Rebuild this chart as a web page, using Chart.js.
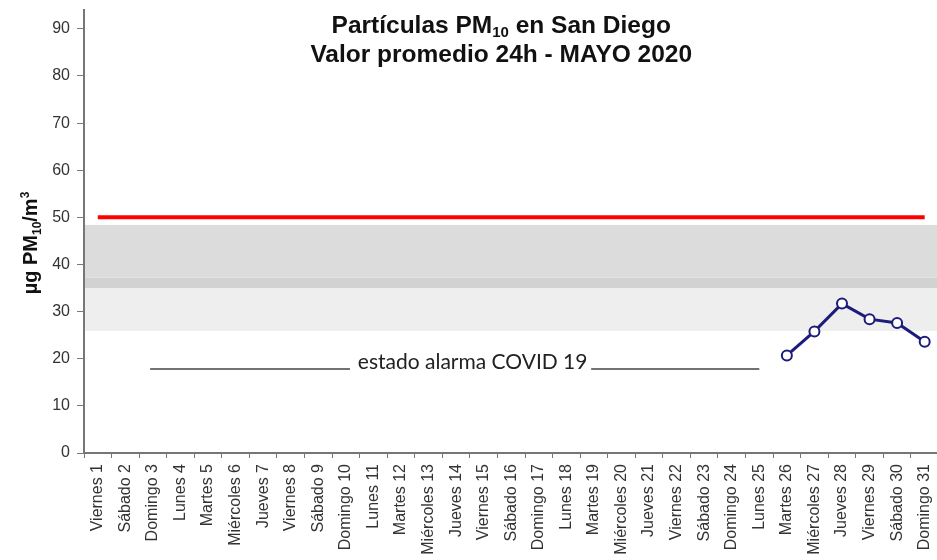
<!DOCTYPE html>
<html>
<head>
<meta charset="utf-8">
<script src="https://cdn.jsdelivr.net/npm/chart.js@4.4.1/dist/chart.umd.min.js"></script>
<style>
  html, body { margin: 0; padding: 0; background: #fff; overflow: hidden; }
  canvas { display: block; }
</style>
</head>
<body>
<canvas id="pmChart" width="950" height="560"></canvas>
<script>
// Días de mayo 2020 (eje X)
const dayLabels = [
    'Viernes 1', 'Sábado 2', 'Domingo 3', 'Lunes 4', 'Martes 5', 'Miércoles 6', 'Jueves 7',
    'Viernes 8', 'Sábado 9', 'Domingo 10', 'Lunes 11', 'Martes 12', 'Miércoles 13', 'Jueves 14',
    'Viernes 15', 'Sábado 16', 'Domingo 17', 'Lunes 18', 'Martes 19', 'Miércoles 20', 'Jueves 21',
    'Viernes 22', 'Sábado 23', 'Domingo 24', 'Lunes 25', 'Martes 26', 'Miércoles 27', 'Jueves 28',
    'Viernes 29', 'Sábado 30', 'Domingo 31'
];

// Valor promedio 24h PM10 (solo hay datos desde el martes 26)
const pm10Values = [
    null, null, null, null, null, null, null, null, null, null,
    null, null, null, null, null, null, null, null, null, null,
    null, null, null, null, null,
    20.7, 25.8, 31.7, 28.4, 27.6, 23.6
];

// Valor límite diario
const limitValue = 50;
const limitSeries = dayLabels.map(() => limitValue);

// Bandas grises (umbral superior / inferior de evaluación)
const bandLows = [37.2, 35.0, 25.9];
const bandHighs = [48.4, 37.2, 35.0];

// Ticks del eje Y
const yTickValues = [0, 10, 20, 30, 40, 50, 60, 70, 80, 90];
const yMax = 94;

const covidText = 'estado alarma COVID 19';

// bandas de fondo
const bandsPlugin = {
    id: 'bands',
    beforeDatasetsDraw(chart) {
        const { ctx, chartArea, scales } = chart;
        const colors = ['#dcdcdc', '#d2d2d2', '#eeeeee'];
        ctx.save();
        for (let i = 0; i < bandLows.length; i++) {
            const yTop = scales.y.getPixelForValue(bandHighs[i]);
            const yBot = scales.y.getPixelForValue(bandLows[i]);
            ctx.fillStyle = colors[i];
            ctx.fillRect(chartArea.left + 1, yTop, chartArea.right - chartArea.left, yBot - yTop);
        }
        ctx.restore();
    }
};

// texto con subíndices / superíndices
function drawParts(ctx, parts, x, y, size) {
    let cx = x;
    parts.forEach(p => {
        const s = p.sub || p.sup ? Math.round(size * 0.62) : size;
        ctx.font = `bold ${s}px "Liberation Sans", Arial, sans-serif`;
        const dy = p.sub ? size * 0.18 : (p.sup ? -size * 0.38 : 0);
        ctx.fillText(p.t, cx, y + dy);
        cx += ctx.measureText(p.t).width;
    });
    return cx - x;
}
function partsWidth(ctx, parts, size) {
    let w = 0;
    parts.forEach(p => {
        const s = p.sub || p.sup ? Math.round(size * 0.62) : size;
        ctx.font = `bold ${s}px "Liberation Sans", Arial, sans-serif`;
        w += ctx.measureText(p.t).width;
    });
    return w;
}

const textPlugin = {
    id: 'texts',
    afterDraw(chart) {
        const { ctx, chartArea, scales } = chart;
        ctx.save();
        ctx.fillStyle = '#111';
        ctx.textBaseline = 'alphabetic';
        ctx.textAlign = 'left';

        // título
        const titleSize = 24.5;
        const line1 = [{ t: 'Partículas PM' }, { t: '10', sub: true }, { t: ' en San Diego' }];
        const line2 = [{ t: 'Valor promedio 24h - MAYO 2020' }];
        const cx = (chartArea.left + chartArea.right) / 2 - 10;
        let w = partsWidth(ctx, line1, titleSize);
        drawParts(ctx, line1, cx - w / 2, 33, titleSize);
        w = partsWidth(ctx, line2, titleSize);
        drawParts(ctx, line2, cx - w / 2, 62, titleSize);

        // título eje Y
        const yParts = [{ t: 'µg PM' }, { t: '10', sub: true }, { t: '/m' }, { t: '3', sup: true }];
        const ySize = 20;
        ctx.save();
        ctx.translate(37, 243);
        ctx.rotate(-Math.PI / 2);
        w = partsWidth(ctx, yParts, ySize);
        drawParts(ctx, yParts, -w / 2, 0, ySize);
        ctx.restore();

        // anotación estado alarma
        const x = scales.x, y = scales.y;
        ctx.strokeStyle = '#444';
        ctx.lineWidth = 1.5;
        const lineY = y.getPixelForValue(17.8);
        ctx.beginPath();
        ctx.moveTo(x.getPixelForValue(1.9), lineY);
        ctx.lineTo(x.getPixelForValue(9.15), lineY);
        ctx.moveTo(x.getPixelForValue(17.9), lineY);
        ctx.lineTo(x.getPixelForValue(24.0), lineY);
        ctx.stroke();
        ctx.font = '21px Lato, "Open Sans", sans-serif';
        ctx.fillStyle = '#222';
        ctx.textAlign = 'center';
        ctx.fillText(covidText, x.getPixelForValue(13.6), y.getPixelForValue(17.8));
        ctx.restore();
    }
};

const ctx = document.getElementById('pmChart').getContext('2d');
new Chart(ctx, {
    type: 'line',
    data: {
        labels: dayLabels,
        datasets: [
            {
                label: 'Valor límite',
                data: limitSeries,
                borderColor: '#ff0000',
                borderWidth: 4,
                pointRadius: 0,
                fill: false
            },
            {
                label: 'PM10',
                data: pm10Values,
                borderColor: '#1c1c7a',
                borderWidth: 3,
                pointRadius: 5,
                pointBackgroundColor: '#ffffff',
                pointBorderColor: '#1c1c7a',
                pointBorderWidth: 2,
                fill: false,
                tension: 0
            }
        ]
    },
    options: {
        responsive: false,
        animation: false,
        layout: { padding: { top: 10, left: 0, right: 0, bottom: 0 } },
        plugins: {
            legend: { display: false },
            tooltip: { enabled: false }
        },
        scales: {
            x: {
                offset: true,
                grid: { offset: true, drawOnChartArea: false, tickLength: 5, color: '#777' },
                border: { color: '#777', width: 2 },
                ticks: {
                    autoSkip: false,
                    minRotation: 90,
                    maxRotation: 90,
                    padding: 6,
                    color: '#333',
                    font: { family: '"Liberation Sans", Arial, sans-serif', size: 16 }
                },
                afterFit: scale => { scale.height = 107; }
            },
            y: {
                min: 0,
                max: yMax,
                grid: { drawOnChartArea: false, tickLength: 7, color: '#777' },
                border: { color: '#777', width: 2 },
                ticks: {
                    stepSize: 10,
                    padding: 7,
                    color: '#333',
                    font: { family: '"Liberation Sans", Arial, sans-serif', size: 16 }
                },
                afterBuildTicks: axis => {
                    axis.ticks = yTickValues.map(v => ({ value: v }));
                },
                afterFit: scale => {
                    scale.width = 84;
                    scale.paddingTop = 0;
                    scale.paddingBottom = 0;
                }
            }
        }
    },
    plugins: [bandsPlugin, textPlugin]
});
</script>
</body>
</html>
